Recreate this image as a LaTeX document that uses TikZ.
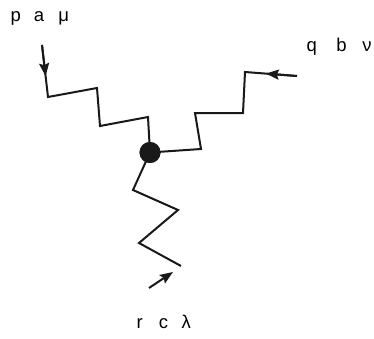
\documentclass[tikz,border=0pt]{standalone}
\usepackage{fontspec}
\setmainfont{Liberation Sans}
\usetikzlibrary{arrows.meta,calc}
\begin{document}
\begin{tikzpicture}[x=1pt,y=1pt,
  gluon/.style={line width=2pt, line join=miter, black!90},
  arr/.style={line width=2pt, -{Stealth[length=13pt,width=10pt,inset=2pt]}, black!90},
  lbl/.style={font=\fontsize{18.5}{21}\selectfont, inner sep=0pt, anchor=base west},
  vtx/.style={circle, fill=black!90, minimum size=21pt, inner sep=0pt}]
\useasboundingbox (0,0) rectangle (374,338);
% vertex
\node[vtx] (v) at (150,185.5) {};
% labels
\node[lbl] (pam) at (10.5,316.5) {p\hspace{13pt}a\hspace{14pt}μ};
\node[lbl] (qbn) at (306.5,286.3) {q\hspace{19.5pt}b\hspace{15.5pt}ν};
\node[lbl] (rcl) at (136.5,10) {r\hspace{16pt}c\hspace{13.5pt}λ};
% left leg
\coordinate (a0) at (42,293);
\coordinate (a1) at (48,241);
\coordinate (a2) at (97,250);
\coordinate (a3) at (100,212);
\coordinate (a4) at (148,221);
\draw[gluon] (a0) -- (a1) -- (a2) -- (a3) -- (a4) -- (v.center);
\draw[arr] (a0) -- ($(a0)!0.6!(a1)$);
% right leg
\coordinate (b0) at (297,262);
\coordinate (b1) at (245,266);
\coordinate (b2) at (243,225);
\coordinate (b3) at (195,225);
\coordinate (b4) at (201,189);
\draw[gluon] (b0) -- (b1) -- (b2) -- (b3) -- (b4) -- (v.center);
\draw[arr] (b0) -- ($(b0)!0.6!(b1)$);
% bottom leg
\coordinate (c1) at (181,72);
\coordinate (c2) at (139,95);
\coordinate (c3) at (178,128);
\coordinate (c4) at (133,148);
\draw[gluon] (c1) -- (c2) -- (c3) -- (c4) -- (v.center);
\coordinate (d0) at (149,50);
\coordinate (d1) at (173,66);
\draw[arr] (d0) -- (d1);
\node[vtx] at (v) {};
\end{tikzpicture}
\end{document}
